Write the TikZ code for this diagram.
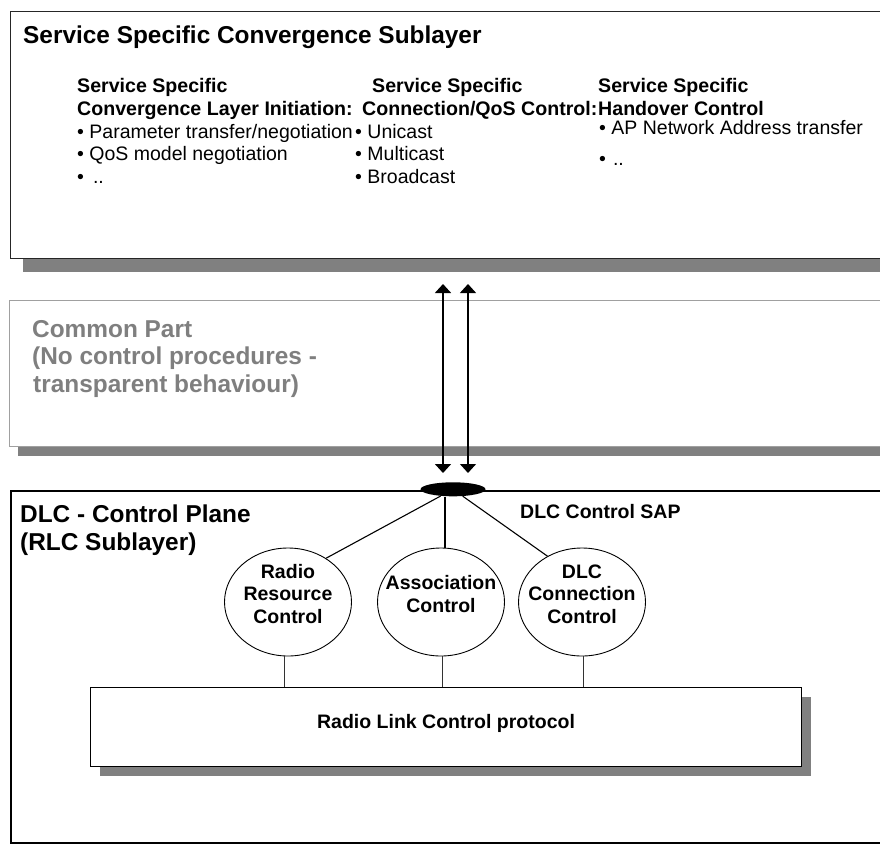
\documentclass[tikz,border=0pt]{standalone}
\usepackage{fontspec}
\setmainfont{Liberation Sans}
\usetikzlibrary{arrows.meta,shapes.geometric,shadows}
\definecolor{shadowgray}{HTML}{808080}
\definecolor{cpgray}{HTML}{7F7F7F}
\definecolor{cpborder}{HTML}{A0A0A0}
\begin{document}
\begin{tikzpicture}[x=1pt,y=-1pt,
  bigt/.style={inner sep=0pt,anchor=base west,font=\fontsize{24.4}{28}\selectfont\bfseries},
  hd/.style={inner sep=0pt,anchor=base west,font=\fontsize{19.6}{22.5}\selectfont\bfseries},
  bl/.style={inner sep=0pt,anchor=base west,font=\fontsize{19.5}{22.5}\selectfont},
  layerbox/.style={draw,anchor=north west,inner sep=0pt,fill=white},
  sh/.style 2 args={drop shadow={shadow xshift=#1,shadow yshift=#2,fill=shadowgray,opacity=1}},
  funcell/.style={ellipse,draw,line width=0.9pt,fill=white,minimum width=127pt,minimum height=108pt,inner sep=0pt},
  celltext/.style={inner sep=0pt,align=center,font=\fontsize{19.5}{22.5}\selectfont\bfseries},
  conn/.style={line width=1.1pt},
  vconn/.style={line width=0.8pt,draw=black!80},
  dbl/.style={{Triangle[width=16pt,length=9pt]}-{Triangle[width=16pt,length=9pt]},line width=1.6pt}
]
\useasboundingbox (0,0) rectangle (880,844);
\clip (0,0) rectangle (880,844);

% Service Specific Convergence Sublayer
\node[layerbox,draw=black!85,line width=1.3pt,minimum width=900pt,minimum height=247pt,sh={12pt}{-13pt}] (ssc) at (10,11) {};
\node[bigt] (t1) at (23,43) {Service Specific Convergence Sublayer};
\node[hd] (h11) at (77,92.5) {Service Specific};
\node[hd] (h12) at (77,115) {Convergence Layer Initiation:};
\node[hd] (h21) at (372,92.5) {Service Specific};
\node[hd] (h22) at (362,115) {Connection/QoS Control:};
\node[hd] (h31) at (598,92.5) {Service Specific};
\node[hd] (h32) at (598,115) {Handover Control};
\node[bl] (b11) at (77,138) {• Parameter transfer/negotiation};
\node[bl] (b12) at (77,160.5) {• QoS model negotiation};
\node[bl] (b13) at (77,183) {•\kern9pt..};
\node[bl] (b21) at (355,138) {• Unicast};
\node[bl] (b22) at (355,160.5) {• Multicast};
\node[bl] (b23) at (355,183) {• Broadcast};
\node[bl] (b31) at (599,134) {• AP Network Address transfer};
\node[bl] (b32) at (599,165) {•\kern7pt..};

% Common Part
\node[layerbox,draw=cpborder,line width=1pt,minimum width=900pt,minimum height=146pt,sh={9pt}{-9.5pt}] (cp) at (8.5,300) {};
\node[bigt,text=cpgray] (cp1) at (32,337) {Common Part};
\node[bigt,text=cpgray] (cp2) at (32,364.5) {(No control procedures -};
\node[bigt,text=cpgray] (cp3) at (33,392) {transparent behaviour)};

% DLC control plane
\node[layerbox,line width=1.5pt,minimum width=900pt,minimum height=352pt] (dlc) at (10,490) {};
\node[bigt] (d1) at (20,522) {DLC - Control Plane};
\node[bigt] (d2) at (20,550) {(RLC Sublayer)};
\node[hd,font=\fontsize{19.5}{22.5}\selectfont\bfseries] (sapl) at (520,518) {DLC Control SAP};

% arrows between layers
\coordinate (a1t) at (443,284);
\coordinate (a1b) at (443,473);
\coordinate (a2t) at (468,284);
\coordinate (a2b) at (468,473);
\draw[dbl] (a1t) -- (a1b);
\draw[dbl,line width=1.3pt] (a2t) -- (a2b);

% SAP
\node[ellipse,fill=black,minimum width=65pt,minimum height=14pt,inner sep=0pt] (sap) at (453,489.3) {};

% control functions
\node[funcell] (rrc) at (288,602) {};
\node[funcell] (assoc) at (441,602) {};
\node[funcell] (dcc) at (582,602) {};
\node[celltext] (rrct) at (288,594) {Radio\\Resource\\Control};
\node[celltext] (assoct) at (441,594) {Association\\Control};
\node[celltext] (dcct) at (582,594) {DLC\\Connection\\Control};

\draw[conn] (sap) -- (rrc.49);
\draw[conn] ([xshift=4pt]assoc.north |- sap.south) -- ([xshift=4pt]assoc.north);
\draw[conn] (sap) -- (dcc.127);

% Radio Link Control protocol
\node[layerbox,line width=1.2pt,minimum width=711pt,minimum height=79pt,sh={9pt}{-9.5pt}] (rlc) at (90,687) {};
\node[inner sep=0pt,anchor=base,font=\fontsize{19.5}{22.5}\selectfont\bfseries] (rlct) at (446,728) {Radio Link Control protocol};

\draw[vconn] ([xshift=-4pt]rrc.south) -- ([xshift=-4pt]rrc.south |- rlc.north);
\draw[vconn] ([xshift=1pt]assoc.south) -- ([xshift=1pt]assoc.south |- rlc.north);
\draw[vconn] ([xshift=1pt]dcc.south) -- ([xshift=1pt]dcc.south |- rlc.north);
\end{tikzpicture}
\end{document}
